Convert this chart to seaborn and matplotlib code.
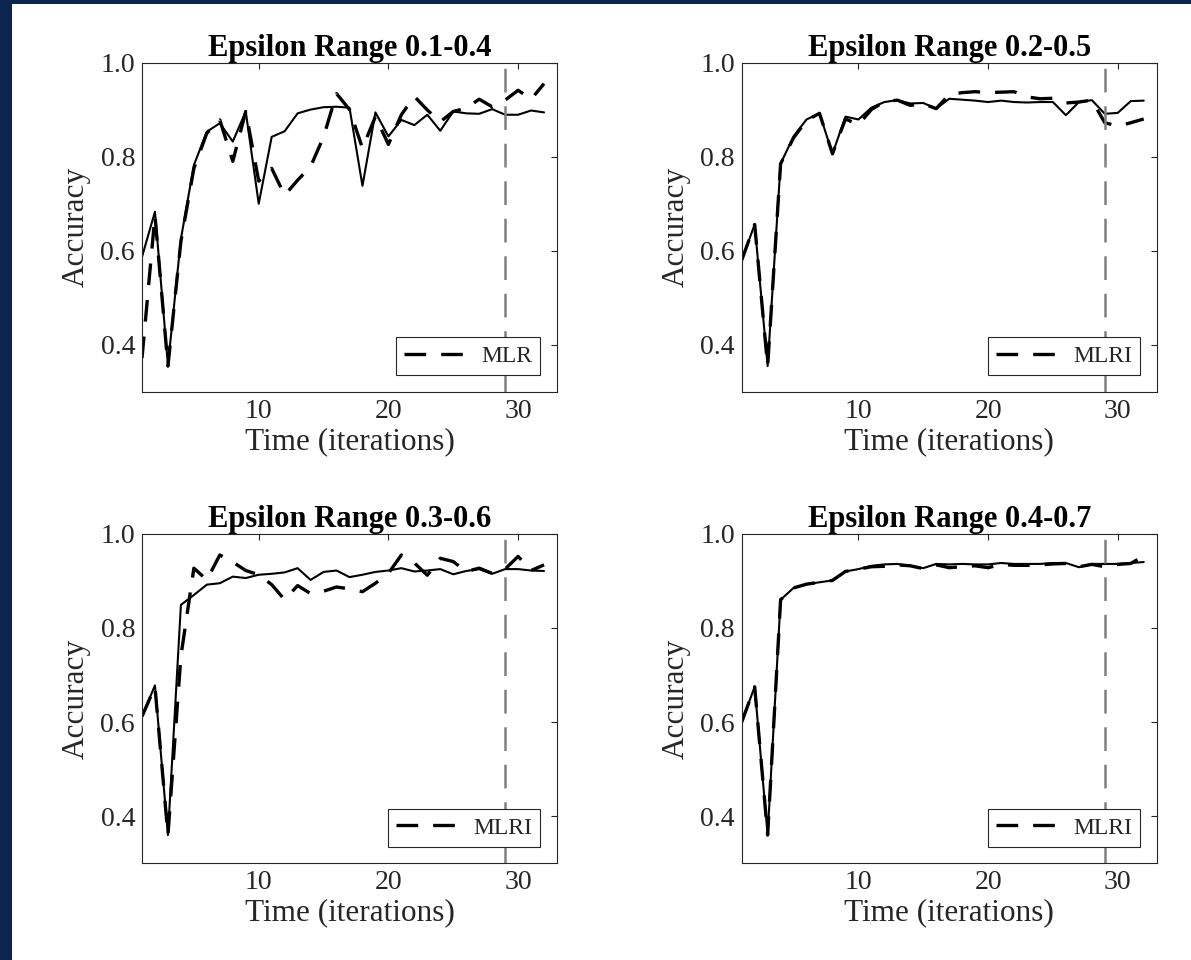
import numpy as np
import pandas as pd
import matplotlib
matplotlib.use('Agg')
import matplotlib.pyplot as plt
from matplotlib.patches import Rectangle
import seaborn as sns

# 数据：迭代次数与四个 epsilon 区间下的准确率
iterations = list(range(1, 33))

titles = ['Epsilon Range 0.1-0.4', 'Epsilon Range 0.2-0.5',
          'Epsilon Range 0.3-0.6', 'Epsilon Range 0.4-0.7']
legend_labels = ['MLR', 'MLRI', 'MLRI', 'MLRI']

solid_01 = [0.587, 0.683, 0.357, 0.625, 0.782, 0.853, 0.871, 0.832, 0.896, 0.700,
            0.842, 0.854, 0.892, 0.900, 0.905, 0.906, 0.904, 0.738, 0.894, 0.843,
            0.878, 0.867, 0.889, 0.855, 0.896, 0.892, 0.891, 0.901, 0.889, 0.889,
            0.898, 0.894]
dashed_01 = [0.372, 0.675, 0.355, 0.620, 0.775, 0.850, 0.878, 0.790, 0.896, 0.748,
             0.775, 0.718, 0.750, 0.779, 0.842, 0.934, 0.900, 0.818, 0.885, 0.826,
             0.889, 0.928, 0.899, 0.874, 0.896, 0.903, 0.922, 0.906, 0.920, 0.941,
             0.922, 0.955]

solid_02 = [0.580, 0.656, 0.355, 0.785, 0.843, 0.879, 0.892, 0.806, 0.885, 0.879,
            0.904, 0.916, 0.920, 0.913, 0.914, 0.902, 0.923, 0.921, 0.919, 0.916,
            0.919, 0.916, 0.915, 0.916, 0.916, 0.888, 0.916, 0.920, 0.891, 0.893,
            0.918, 0.919]
dashed_02 = [0.580, 0.656, 0.355, 0.785, 0.840, 0.877, 0.892, 0.806, 0.880, 0.868,
             0.900, 0.917, 0.920, 0.909, 0.912, 0.902, 0.932, 0.936, 0.938, 0.936,
             0.937, 0.938, 0.927, 0.923, 0.924, 0.914, 0.916, 0.920, 0.872, 0.865,
             0.872, 0.880]

solid_03 = [0.612, 0.678, 0.360, 0.849, 0.870, 0.892, 0.895, 0.909, 0.906, 0.913,
            0.915, 0.918, 0.927, 0.902, 0.919, 0.922, 0.908, 0.913, 0.919, 0.922,
            0.927, 0.920, 0.922, 0.925, 0.914, 0.921, 0.925, 0.915, 0.925, 0.925,
            0.922, 0.921]
dashed_03 = [0.612, 0.675, 0.360, 0.740, 0.927, 0.902, 0.955, 0.940, 0.922, 0.913,
             0.892, 0.860, 0.890, 0.873, 0.878, 0.887, 0.883, 0.877, 0.895, 0.916,
             0.955, 0.938, 0.912, 0.948, 0.941, 0.920, 0.927, 0.916, 0.925, 0.952,
             0.922, 0.934]

solid_04 = [0.600, 0.675, 0.360, 0.860, 0.885, 0.893, 0.897, 0.901, 0.920, 0.925,
            0.932, 0.935, 0.936, 0.932, 0.927, 0.936, 0.935, 0.936, 0.935, 0.935,
            0.938, 0.936, 0.936, 0.936, 0.938, 0.938, 0.929, 0.936, 0.936, 0.936,
            0.938, 0.940]
dashed_04 = [0.600, 0.675, 0.360, 0.860, 0.885, 0.893, 0.897, 0.901, 0.920, 0.925,
             0.930, 0.931, 0.934, 0.932, 0.926, 0.934, 0.928, 0.930, 0.932, 0.928,
             0.935, 0.933, 0.933, 0.934, 0.936, 0.937, 0.930, 0.935, 0.930, 0.935,
             0.937, 0.953]

solid_series = [solid_01, solid_02, solid_03, solid_04]
dashed_series = [dashed_01, dashed_02, dashed_03, dashed_04]
marker_iter = 29
x_ticks = [10, 20, 30]
y_ticks = [0.4, 0.6, 0.8, 1.0]

sns.set_theme(style='white')
plt.rcParams['font.family'] = ['Liberation Serif', 'DejaVu Serif']

fig = plt.figure(figsize=(11.91, 9.6), dpi=100, facecolor='#0b2452')
# 白色画布区域（左侧和顶部留出蓝色背景边）
fig.add_artist(Rectangle((12 / 1191, 0), 1 - 12 / 1191, 1 - 4 / 960,
                         transform=fig.transFigure, facecolor='white',
                         edgecolor='none', zorder=0))

ax_w = 415 / 1191
ax_h = 329.5 / 960
positions = [(142 / 1191, 1 - 392 / 960), (741.7 / 1191, 1 - 392 / 960),
             (142 / 1191, 1 - 863.3 / 960), (741.7 / 1191, 1 - 863.3 / 960)]

text_color = '#262626'

for i in range(4):
    ax = fig.add_axes([positions[i][0], positions[i][1], ax_w, ax_h])
    ax.set_facecolor('white')

    sns.lineplot(x=iterations, y=solid_series[i], ax=ax, color='black',
                 linewidth=1.5)
    sns.lineplot(x=iterations, y=dashed_series[i], ax=ax, color='black',
                 linewidth=2.4, linestyle='--')
    dashed_line = ax.lines[-1]
    dashed_line.set_dashes([6.5, 4.5])

    ax.axvline(marker_iter, color='#808080', linewidth=1.8, dashes=(9.5, 5.5))

    ax.set_xlim(1, 33)
    ax.set_ylim(0.3, 1.0)
    ax.set_xticks(x_ticks)
    ax.set_yticks(y_ticks)
    ax.set_yticklabels([f'{v:.1f}' for v in y_ticks])
    ax.tick_params(direction='in', top=True, right=True, length=4, width=0.8,
                   labelsize=20, colors=text_color, pad=5)
    for sp in ax.spines.values():
        sp.set_color(text_color)
        sp.set_linewidth(0.8)

    ax.set_title(titles[i], fontsize=22, fontweight='bold', color='black', pad=5)
    ax.set_xlabel('Time (iterations)', fontsize=22.5, color=text_color, labelpad=2)
    ax.set_ylabel('Accuracy', fontsize=22.5, color=text_color, labelpad=7)

    leg = ax.legend(handles=[dashed_line], labels=[legend_labels[i]],
                    loc='lower right', frameon=True, fancybox=False,
                    framealpha=1, fontsize=17, handlelength=2.5,
                    borderpad=0.35, handletextpad=0.75, borderaxespad=0.7)
    leg.get_frame().set_edgecolor(text_color)
    leg.get_frame().set_linewidth(0.8)
    for t in leg.get_texts():
        t.set_color(text_color)

fig.savefig('out.png', dpi=100, facecolor=fig.get_facecolor())
